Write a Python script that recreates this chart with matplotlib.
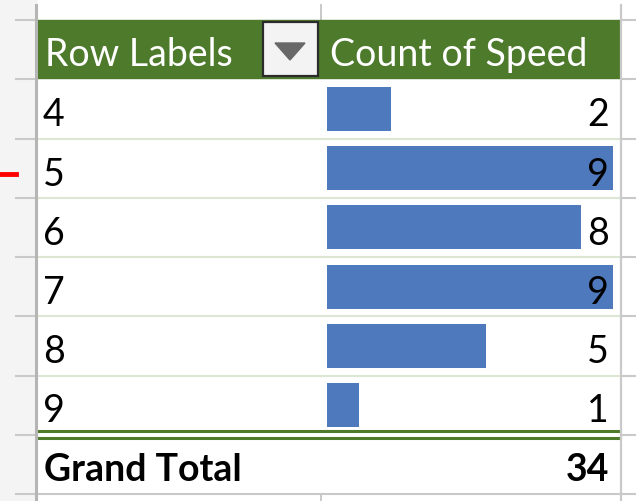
import matplotlib
matplotlib.use("Agg")
import matplotlib.pyplot as plt
from matplotlib.patches import Rectangle, Polygon

# pivot table data
speeds = ["4", "5", "6", "7", "8", "9"]
counts = [2, 9, 8, 9, 5, 1]
header_row = "Row Labels"
header_val = "Count of Speed"
total_label = "Grand Total"

W, H = 636, 501
ROW_H = 59.25
TOP = 20.0
LEFT, RIGHT = 36, 621
MID = 321
BAR_X0, BAR_UNIT = 327, 31.8
GREEN = "#4e7a2c"
BAR_C = "#4f79bd"
GRID = "#c9c9c9"
FONT = ["Lato", "DejaVu Sans"]
FS = 27

fig = plt.figure(figsize=(W / 100, H / 100), dpi=100)
bg = fig.add_axes([0, 0, 1, 1])
bg.set_xlim(0, W)
bg.set_ylim(H, 0)
bg.axis("off")

n = len(speeds)
rows_top = [TOP + ROW_H * (i + 1) for i in range(n)]
table_bottom = TOP + ROW_H * (n + 2)
total_top = TOP + ROW_H * (n + 1)

# spreadsheet row-header strip and gridlines outside the table
bg.add_patch(Rectangle((0, 0), LEFT, H, color="#f4f4f4", zorder=0))
bounds = [TOP] + rows_top + [total_top, table_bottom]
for y in bounds:
    bg.plot([16, LEFT], [y, y], color=GRID, lw=1.5, zorder=1)
    bg.plot([RIGHT, W], [y, y], color=GRID, lw=1.5, zorder=1)
bg.plot([LEFT, LEFT], [5, H], color="#b5b5b5", lw=2.2, zorder=3)
bg.plot([RIGHT, RIGHT], [5, H], color=GRID, lw=1.6, zorder=3)
bg.plot([MID, MID], [5, TOP], color=GRID, lw=1.4, zorder=1)
bg.plot([MID, MID], [table_bottom, H], color=GRID, lw=1.4, zorder=1)
bg.plot([LEFT, RIGHT], [table_bottom, table_bottom], color=GRID, lw=1.5, zorder=2)

# red marker at the left
bg.plot([0, 16], [174, 174], color="#ff0000", lw=3.5, zorder=4)

# header
bg.add_patch(Rectangle((LEFT + 1, TOP), RIGHT - LEFT - 2, ROW_H - 1.5,
                       color=GREEN, zorder=2))
bg.text(45, TOP + 46, header_row, color="white", fontsize=FS, family=FONT,
        va="baseline", ha="left", zorder=5)
bg.text(330, TOP + 46, header_val, color="white", fontsize=FS, family=FONT,
        va="baseline", ha="left", zorder=5)
# dropdown button
bg.add_patch(Rectangle((263, 22), 55, 54, facecolor="#f3f3f3",
                       edgecolor="#2b2b2b", lw=1.6, zorder=5))
bg.add_patch(Polygon([[275, 43], [305, 43], [290, 60]], closed=True,
                     color="#686868", zorder=6))

# light green row separators
for y in rows_top[1:]:
    bg.plot([LEFT + 1, RIGHT - 1], [y, y], color="#dbe7d2", lw=1.5, zorder=2)

# double line above grand total
for y in (total_top - 3.5, total_top + 3.5):
    bg.plot([LEFT + 1, RIGHT - 1], [y, y], color=GREEN, lw=2.2, zorder=2)

# data bars
bax = fig.add_axes([BAR_X0 / W, 1 - total_top / H,
                    max(counts) * BAR_UNIT / W, (total_top - rows_top[0]) / H])
bax.barh(range(n), counts, height=0.74, color=BAR_C)
bax.set_xlim(0, max(counts))
bax.set_ylim(n - 0.5, -0.5)
bax.axis("off")
bax.patch.set_alpha(0)

# row labels and values
tax = fig.add_axes([0, 0, 1, 1])
tax.set_xlim(0, W)
tax.set_ylim(H, 0)
tax.axis("off")
tax.patch.set_alpha(0)
for top, s, c in zip(rows_top, speeds, counts):
    tax.text(43, top + 47, s, fontsize=FS, family=FONT, color="black",
             va="baseline", ha="left")
    tax.text(609, top + 47, str(c), fontsize=FS, family=FONT, color="black",
             va="baseline", ha="right")
tax.text(44, total_top + 46, total_label, fontsize=FS, family=FONT,
         weight="bold", va="baseline", ha="left")
tax.text(609, total_top + 46, str(sum(counts)), fontsize=FS, family=FONT,
         weight="bold", va="baseline", ha="right")

fig.savefig("out.png", dpi=100)
